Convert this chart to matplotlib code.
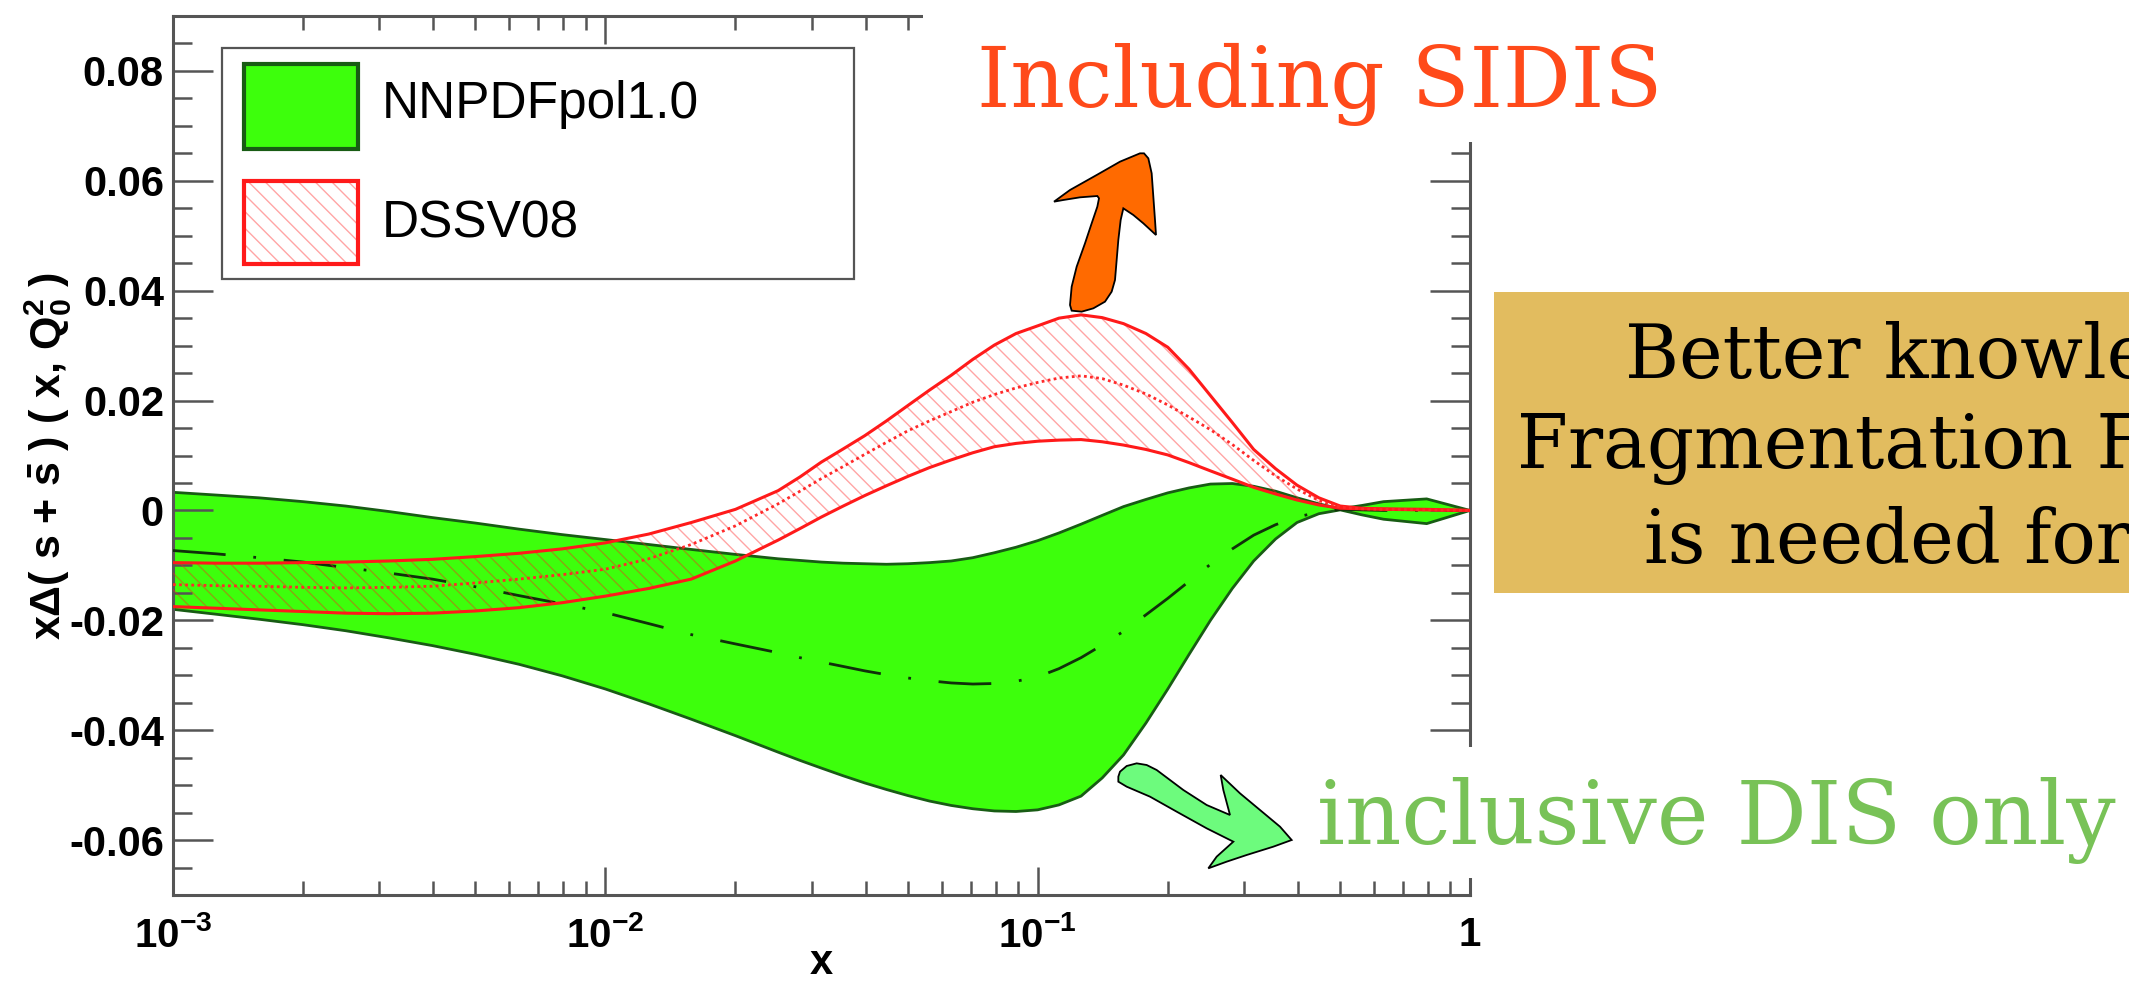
import matplotlib
matplotlib.use('Agg')
import matplotlib.pyplot as plt
from matplotlib.patches import Rectangle, Polygon
from matplotlib.ticker import FixedLocator, FixedFormatter, LogLocator, NullFormatter, MultipleLocator

# ---------------- data ----------------
x_vals = [0.001, 0.00126, 0.00158, 0.002, 0.00251, 0.00316, 0.00398, 0.00501, 0.00631, 0.00794,
          0.01, 0.0126, 0.0158, 0.02, 0.0251,
          0.0282, 0.0316, 0.0355, 0.0398, 0.0447, 0.0501, 0.0562, 0.0631, 0.0708, 0.0794,
          0.0891, 0.1, 0.112, 0.126, 0.141, 0.158, 0.178, 0.2, 0.224, 0.251,
          0.282, 0.316, 0.355, 0.398, 0.447, 0.501, 0.562, 0.631,
          0.794, 1.0]

nnpdf_hi = [0.0033, 0.0028, 0.0023, 0.0016, 0.0008, -0.0002, -0.0013, -0.0023, -0.0034, -0.0044,
            -0.0053, -0.0062, -0.0071, -0.0080, -0.0088,
            -0.0091, -0.0094, -0.0096, -0.0097, -0.0098, -0.0097, -0.0095, -0.0092, -0.0086, -0.0077,
            -0.0067, -0.0055, -0.0041, -0.0025, -0.0009, 0.0007, 0.0020, 0.0032, 0.0041, 0.0048,
            0.0049, 0.0044, 0.0035, 0.0023, 0.0012, 0.0003, 0.0009, 0.0016,
            0.0021, 0.0]
nnpdf_lo = [-0.0180, -0.0189, -0.0198, -0.0208, -0.0219, -0.0232, -0.0246, -0.0262, -0.0280, -0.0301,
            -0.0325, -0.0352, -0.0380, -0.0410, -0.0440,
            -0.0455, -0.0469, -0.0483, -0.0496, -0.0508, -0.0519, -0.0529, -0.0537, -0.0543, -0.0547,
            -0.0548, -0.0545, -0.0536, -0.0520, -0.0487, -0.0445, -0.0387, -0.0325, -0.0262, -0.0200,
            -0.0142, -0.0092, -0.0052, -0.0022, -0.0006, 0.0001, -0.0008, -0.0016,
            -0.0024, 0.0]
nnpdf_c = [-0.0073, -0.0079, -0.0086, -0.0094, -0.0104, -0.0114, -0.0125, -0.0139, -0.0155, -0.0170,
           -0.0186, -0.0206, -0.0226, -0.0243, -0.0259,
           -0.0268, -0.0276, -0.0284, -0.0292, -0.0299, -0.0305, -0.0310, -0.0314, -0.0316, -0.0315,
           -0.0311, -0.0303, -0.0288, -0.0268, -0.0245, -0.0220, -0.0190, -0.0160, -0.0129, -0.0098,
           -0.0070, -0.0045, -0.0026, -0.0012, -0.0003, 0.0002, 0.0001, 0.0,
           0.0, 0.0]

dssv_hi = [-0.0095, -0.0096, -0.0096, -0.0095, -0.0094, -0.0092, -0.0089, -0.0084, -0.0078, -0.0070,
           -0.0059, -0.0043, -0.0022, 0.0002, 0.0036,
           0.0061, 0.0088, 0.0112, 0.0136, 0.0163, 0.0191, 0.0219, 0.0246, 0.0275, 0.0301,
           0.0322, 0.0336, 0.0350, 0.0356, 0.0351, 0.0340, 0.0322, 0.0297, 0.0257, 0.0209,
           0.0160, 0.0111, 0.0076, 0.0046, 0.0023, 0.0008, 0.0004, 0.0003,
           0.0002, 0.0]
dssv_c = [-0.0135, -0.0137, -0.0138, -0.0140, -0.0141, -0.0140, -0.0138, -0.0132, -0.0125, -0.0117,
          -0.0107, -0.0088, -0.0062, -0.0028, 0.0012,
          0.0035, 0.0058, 0.0080, 0.0102, 0.0124, 0.0145, 0.0163, 0.0180, 0.0197, 0.0211,
          0.0223, 0.0233, 0.0241, 0.0245, 0.0240, 0.0228, 0.0212, 0.0192, 0.0170, 0.0147,
          0.0120, 0.0091, 0.0063, 0.0039, 0.0018, 0.0006, 0.0003, 0.0002,
          0.0001, 0.0]
dssv_lo = [-0.0175, -0.0178, -0.0181, -0.0184, -0.0187, -0.0188, -0.0187, -0.0183, -0.0177, -0.0168,
           -0.0156, -0.0142, -0.0125, -0.0092, -0.0054,
           -0.0033, -0.0012, 0.0008, 0.0027, 0.0045, 0.0062, 0.0078, 0.0092, 0.0105, 0.0116,
           0.0122, 0.0126, 0.0128, 0.0129, 0.0125, 0.0119, 0.0111, 0.0101, 0.0087, 0.0072,
           0.0057, 0.0042, 0.0030, 0.0019, 0.0010, 0.0004, 0.0003, 0.0002,
           0.0001, 0.0]

x_ticks = [1e-3, 1e-2, 1e-1, 1.0]
x_tick_labels = [r'$\mathbf{10^{-3}}$', r'$\mathbf{10^{-2}}$', r'$\mathbf{10^{-1}}$', r'$\mathbf{1}$']
y_ticks = [-0.06, -0.04, -0.02, 0.0, 0.02, 0.04, 0.06, 0.08]
y_tick_labels = ['-0.06', '-0.04', '-0.02', '0', '0.02', '0.04', '0.06', '0.08']
series_names = ['NNPDFpol1.0', 'DSSV08']

# ---------------- style ----------------
plt.rcParams['font.family'] = ['Liberation Sans', 'DejaVu Sans']
plt.rcParams['mathtext.fontset'] = 'custom'
plt.rcParams['mathtext.rm'] = 'Liberation Sans:bold'
plt.rcParams['mathtext.it'] = 'Liberation Sans:bold'
plt.rcParams['mathtext.bf'] = 'Liberation Sans:bold'
plt.rcParams['mathtext.sf'] = 'Liberation Sans:bold'
plt.rcParams['hatch.linewidth'] = 1.0
HATCH_COL = (1.0, 0.12, 0.12, 0.40)
plt.rcParams['hatch.color'] = HATCH_COL

GREEN = '#3dff0c'
DKGREEN = '#185c14'
RED = '#ff1a1a'
AXCOL = '#555555'

W, H = 2129, 982
AX_L, AX_R, AX_T, AX_B = 173, 1470, 16, 895
fig = plt.figure(figsize=(W / 100, H / 100), dpi=100)
fig.patch.set_facecolor('white')


def fx(px):
    return px / W


def fy(py):
    return 1 - py / H


def axx(px):
    return (px - AX_L) / (AX_R - AX_L)


def axy(py):
    return (AX_B - py) / (AX_B - AX_T)


ax = fig.add_axes([fx(AX_L), fy(AX_B), (AX_R - AX_L) / W, (AX_B - AX_T) / H])
ax.set_xscale('log')
ax.set_xlim(1e-3, 1.0)
ax.set_ylim(-0.07, 0.09)

# NNPDF band
ax.fill_between(x_vals, nnpdf_lo, nnpdf_hi, facecolor=GREEN, edgecolor='none', zorder=1)
ax.plot(x_vals, nnpdf_hi, color=DKGREEN, lw=2.0, zorder=2)
ax.plot(x_vals, nnpdf_lo, color=DKGREEN, lw=2.0, zorder=2)
ax.plot(x_vals, nnpdf_c, color='#10300a', lw=2.0, linestyle=(0, (19, 10, 1, 10)), zorder=3)

# DSSV band
ax.fill_between(x_vals, dssv_lo, dssv_hi, facecolor='none', edgecolor=HATCH_COL,
                hatch='\\\\', linewidth=0, zorder=4)
ax.plot(x_vals, dssv_hi, color=RED, lw=2.2, zorder=5)
ax.plot(x_vals, dssv_lo, color=RED, lw=2.2, zorder=5)
ax.plot(x_vals, dssv_c, color='#ff2a2a', lw=2.0, linestyle=(0, (1, 1.2)), zorder=5)

# axes / ticks
for s in ax.spines.values():
    s.set_color(AXCOL)
    s.set_linewidth(2.2)
ax.xaxis.set_major_locator(FixedLocator(x_ticks))
ax.xaxis.set_major_formatter(FixedFormatter(x_tick_labels))
ax.xaxis.set_minor_locator(LogLocator(base=10, subs=[2, 3, 4, 5, 6, 7, 8, 9]))
ax.xaxis.set_minor_formatter(NullFormatter())
ax.yaxis.set_major_locator(FixedLocator(y_ticks))
ax.yaxis.set_major_formatter(FixedFormatter(y_tick_labels))
ax.yaxis.set_minor_locator(MultipleLocator(0.005))
ax.tick_params(which='both', direction='in', top=True, right=True, color=AXCOL, width=1.8)
ax.tick_params(axis='x', which='major', length=20, pad=15, labelsize=29)
ax.tick_params(axis='x', which='minor', length=10)
ax.tick_params(axis='y', which='major', length=29, pad=6.5, labelsize=30)
ax.tick_params(axis='y', which='minor', length=14)
for lab in ax.get_yticklabels():
    lab.set_fontweight('bold')

ax.set_xlabel('x', fontsize=30, fontweight='bold', va='baseline')
ax.xaxis.set_label_coords(0.5, axy(974))
ax.set_ylabel(r'x$\Delta$( s + $\bar{s}$ ) ( x, Q$_{0}^{2}$ )', fontsize=31,
              fontweight='bold', va='center')
ax.yaxis.set_label_coords(axx(48), 0.5)

# legend box (drawn in axes coordinates)
def ax_rect(x0, y0, x1, y1, **kw):
    r = Rectangle((axx(x0), axy(y1)), axx(x1) - axx(x0), axy(y0) - axy(y1),
                  transform=ax.transAxes, **kw)
    ax.add_patch(r)
    return r

ax_rect(222, 48, 854, 279, facecolor='white', edgecolor=AXCOL, linewidth=1.6, zorder=10)
ax_rect(244, 64, 358, 149, facecolor=GREEN, edgecolor=DKGREEN, linewidth=3, zorder=11)
ax_rect(244, 181, 358, 264, facecolor='white', edgecolor=HATCH_COL, hatch='\\\\', linewidth=0, zorder=11)
ax_rect(244, 181, 358, 264, facecolor='none', edgecolor=RED, linewidth=3, zorder=12)
ax.text(axx(382), axy(118), series_names[0], transform=ax.transAxes, fontsize=37,
        va='baseline', ha='left', zorder=13)
ax.text(axx(382), axy(238), series_names[1], transform=ax.transAxes, fontsize=37,
        va='baseline', ha='left', zorder=13)

# ---------------- slide overlays ----------------
def rect_px(x0, y0, x1, y1, color, z):
    r = Rectangle((fx(x0), fy(y1)), (x1 - x0) / W, (y1 - y0) / H, transform=fig.transFigure,
                  facecolor=color, edgecolor='none', zorder=z)
    fig.add_artist(r)

rect_px(923, 0, W, 142, 'white', 2)
rect_px(1300, 747, W, 878, 'white', 2)
rect_px(1494, 292, W + 5, 593, '#e2bc5f', 2)

fig.text(fx(977), fy(107), 'Including SIDIS', fontsize=61, family='DejaVu Serif',
         color='#ff4a1a', ha='left', va='baseline', zorder=6)
fig.text(fx(1317), fy(844), 'inclusive DIS only', fontsize=63, family='DejaVu Serif',
         color='#78c257', ha='left', va='baseline', zorder=6)
fig.text(fx(1625), fy(378), 'Better knowledge of', fontsize=53, family='DejaVu Serif',
         color='black', ha='left', va='baseline', zorder=6)
fig.text(fx(1517), fy(468), 'Fragmentation Functions', fontsize=53, family='DejaVu Serif',
         color='black', ha='left', va='baseline', zorder=6)
fig.text(fx(1644), fy(563), 'is needed for', fontsize=53, family='DejaVu Serif',
         color='black', ha='left', va='baseline', zorder=6)

# arrows (outline shapes in zoomed pixel units)
orange_outline = [(372, 100), (385, 115), (395, 160), (400, 230), (405, 300), (408, 345),
                  (370, 310), (340, 285), (310, 265), (302, 300), (295, 360), (290, 420),
                  (285, 480), (275, 515), (255, 545), (220, 565), (185, 575), (155, 572),
                  (150, 555), (155, 500), (170, 440), (195, 370), (215, 310), (232, 260),
                  (237, 235), (232, 228), (180, 232), (130, 240), (102, 245), (150, 210),
                  (230, 165), (300, 125), (360, 100)]
orange_pts = [(fx(1020 + a / 3), fy(120 + b / 3)) for a, b in orange_outline]
fig.add_artist(Polygon(orange_pts, closed=True, transform=fig.transFigure,
                       facecolor='#ff6a00', edgecolor='black', linewidth=1.3, zorder=7))

green_outline = [(55, 110), (60, 95), (80, 78), (110, 70), (140, 75), (170, 90), (250, 150),
                 (320, 195), (390, 225), (370, 150), (362, 105), (420, 160), (480, 210),
                 (540, 260), (575, 300), (520, 320), (440, 345), (380, 365), (325, 385),
                 (350, 350), (400, 305), (320, 265), (230, 215), (150, 170), (80, 140),
                 (55, 125)]
green_pts = [(fx(1100 + a / 3), fy(740 + b / 3)) for a, b in green_outline]
fig.add_artist(Polygon(green_pts, closed=True, transform=fig.transFigure,
                       facecolor='#6dfb7d', edgecolor='black', linewidth=1.3, zorder=7))

fig.savefig('out.png', dpi=100)
